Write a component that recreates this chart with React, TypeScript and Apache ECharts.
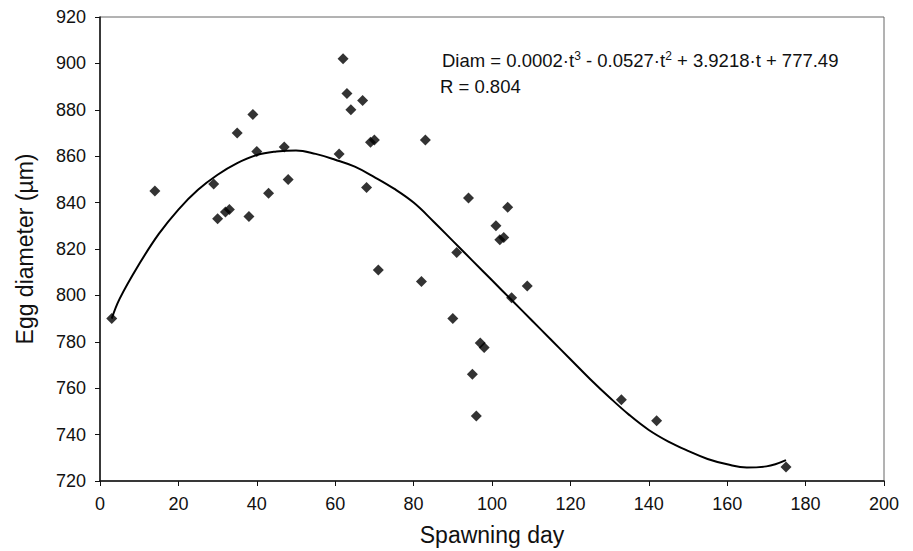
import React, { useEffect, useRef } from "react";
import * as echarts from "echarts";

// Observed eggs: spawning day vs egg diameter (µm)
const spawnDays = [
  3, 14, 29, 30, 32, 33, 35, 38, 39, 40, 43, 47, 48, 61, 62, 63, 64, 67, 68, 69, 70,
  71, 82, 83, 90, 91, 94, 95, 96, 97, 98, 101, 102, 103, 104, 105, 109, 133, 142, 175,
];
const eggDiameters = [
  790, 845, 848, 833, 836, 837, 870, 834, 878, 862, 844, 864, 850, 861, 902, 887, 880, 884, 846.5, 866, 867,
  811, 806, 867, 790, 818.5, 842, 766, 748, 779.5, 777.5, 830, 824, 825, 838, 799, 804, 755, 746, 726,
];

// Fitted cubic trend
const trendDays = [
  3, 5, 10, 15, 20, 25, 30, 35, 40, 45, 50, 55, 60, 65, 70, 75, 80, 85, 90, 95,
  100, 105, 110, 115, 120, 125, 130, 135, 140, 145, 150, 155, 160, 165, 170, 175,
];
const trendValues = [
  790, 798.5, 813.5, 826.5, 837, 845.5, 852, 857, 860.5, 862, 862.5, 861, 858.5, 855.5, 851, 846, 840, 832, 823.5, 815,
  806.5, 798, 789.5, 781, 772.5, 764, 756, 748.5, 742, 737, 733, 729.5, 727.2, 725.8, 726.3, 729,
];

const xTicks = { min: 0, max: 200, interval: 20 };
const yTicks = { min: 720, max: 920, interval: 20 };

const equationParts = ["Diam = 0.0002·t", "3", " - 0.0527·t", "2", " + 3.9218·t + 777.49"];
const rText = "R = 0.804";

const FONT = "'Liberation Sans', Arial, Helvetica, sans-serif";

export default function App() {
  const ref = useRef<HTMLDivElement>(null);

  useEffect(() => {
    if (!ref.current) return;
    const chart = echarts.init(ref.current, null, { renderer: "svg" });
    const scatterData = spawnDays.map((d, i) => [d, eggDiameters[i]]);
    const trendData = trendDays.map((d, i) => [d, trendValues[i]]);
    const eqRich = equationParts
      .map((p, i) => (i % 2 === 1 ? `{sup|${p}}` : `{m|${p}}`))
      .join("");

    chart.setOption({
      animation: false,
      backgroundColor: "#ffffff",
      textStyle: { fontFamily: FONT },
      grid: {
        left: 100,
        right: 29,
        top: 17,
        bottom: 69,
        show: true,
        borderColor: "#666",
        borderWidth: 1,
        backgroundColor: "transparent",
      },
      xAxis: {
        type: "value",
        min: xTicks.min,
        max: xTicks.max,
        interval: xTicks.interval,
        name: "Spawning day",
        nameLocation: "middle",
        nameGap: 42,
        nameTextStyle: { fontSize: 23, color: "#111", fontFamily: FONT },
        axisLine: { show: true, onZero: false, lineStyle: { color: "#111", width: 1.5 } },
        axisTick: { show: true, inside: false, length: 5, lineStyle: { color: "#111" } },
        axisLabel: { fontSize: 18, color: "#111", margin: 14, fontFamily: FONT },
        splitLine: { show: false },
      },
      yAxis: {
        type: "value",
        min: yTicks.min,
        max: yTicks.max,
        interval: yTicks.interval,
        name: "Egg diameter (µm)",
        nameLocation: "middle",
        nameGap: 64,
        nameTextStyle: { fontSize: 23, color: "#111", fontFamily: FONT },
        axisLine: { show: true, onZero: false, lineStyle: { color: "#111", width: 1.5 } },
        axisTick: { show: true, inside: false, length: 5, lineStyle: { color: "#111" } },
        axisLabel: { fontSize: 18, color: "#111", margin: 14, fontFamily: FONT },
        splitLine: { show: false },
      },
      series: [
        {
          type: "line",
          name: "Trend",
          data: trendData,
          smooth: 0.4,
          showSymbol: false,
          symbol: "none",
          lineStyle: { color: "#000", width: 2 },
          z: 2,
        },
        {
          type: "scatter",
          name: "Eggs",
          data: scatterData,
          symbol: "diamond",
          symbolSize: 11,
          itemStyle: { color: "#000" },
          z: 3,
        },
      ],
      graphic: [
        {
          type: "text",
          x: 442,
          y: 50,
          style: {
            text: eqRich,
            fontFamily: FONT,
            fill: "#111",
            verticalAlign: "top",
            align: "left",
            rich: {
              m: { fontSize: 18.5, fontFamily: FONT, fill: "#111", lineHeight: 20, verticalAlign: "bottom" },
              sup: { fontSize: 12, fontFamily: FONT, fill: "#111", lineHeight: 12, verticalAlign: "top" },
            },
          },
        },
        {
          type: "text",
          x: 440,
          y: 86,
          style: {
            text: rText,
            fontSize: 18.5,
            fontFamily: FONT,
            fill: "#111",
            verticalAlign: "middle",
            align: "left",
          },
        },
      ],
    });

    return () => chart.dispose();
  }, []);

  return (
    <div
      ref={ref}
      style={{ position: "fixed", left: 0, top: 0, width: 913, height: 551 }}
    />
  );
}
